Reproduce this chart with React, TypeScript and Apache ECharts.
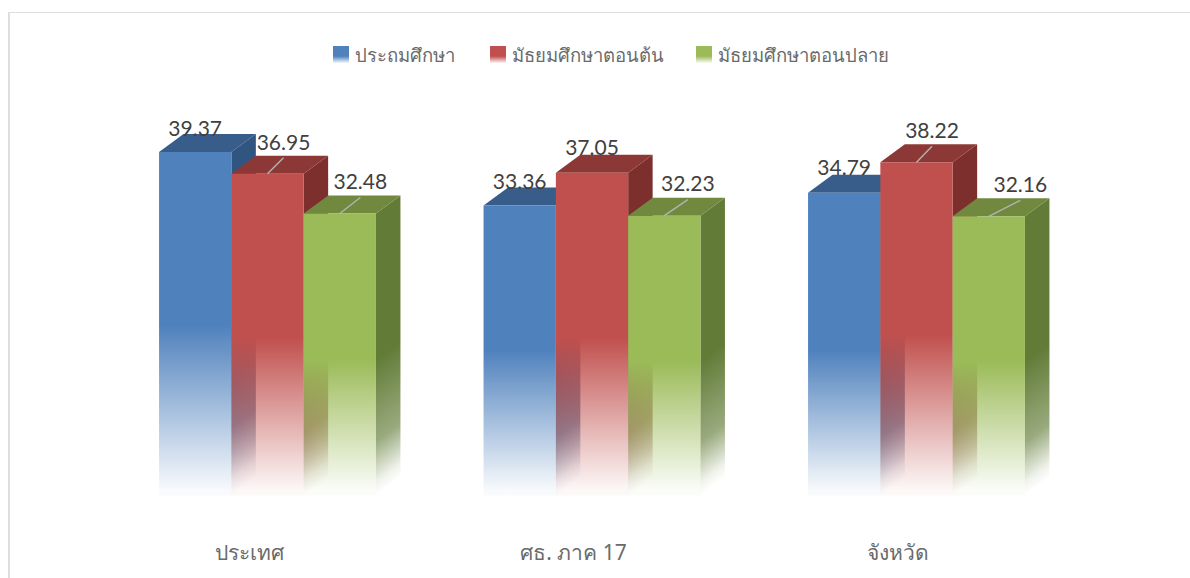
import React, { useEffect, useRef } from "react";
import * as echarts from "echarts";

const categories = ["ประเทศ", "ศธ. ภาค 17", "จังหวัด"];
const seriesNames = ["ประถมศึกษา", "มัธยมศึกษาตอนต้น", "มัธยมศึกษาตอนปลาย"];
const primary = [39.37, 33.36, 34.79];
const lowerSecondary = [36.95, 37.05, 38.22];
const upperSecondary = [32.48, 32.23, 32.16];
const values = [primary, lowerSecondary, upperSecondary];

const FRONT = ["#4f81bd", "#c0504d", "#9bbb59"];
const TOP = ["#385d8a", "#8c3836", "#71893f"];
const SIDE = ["#2f5580", "#7c2f2d", "#627c38"];
const FADE_START = [[325, 350, 350], [338, 338, 335], [360, 362, 362]];
// label offset from the centre of the bar's front face; a non-zero x gets a leader line
const LABEL_OFFSET = [
  [[0, -25], [0, -25], [0, -26]],
  [[16, -32], [0, -26], [15.5, -33]],
  [[20.5, -33], [23.5, -33], [31.5, -33]],
];

const BASE_VALUE = 0.8;
const BAR_W = 72.3;
const DX = 24.5;
const DY = -18;
const alpha = (hex: string, a: number) => {
  const n = parseInt(hex.slice(1), 16);
  return `rgba(${n >> 16},${(n >> 8) & 255},${n & 255},${a})`;
};
const frontFill = (hex: string, y1: number, y2: number) => ({
  type: "linear",
  x: 0,
  y: y1,
  x2: 0,
  y2,
  global: true,
  colorStops: [
    { offset: 0, color: alpha(hex, 1) },
    { offset: 1, color: alpha(hex, 0.04) },
  ],
});
// side-face fade whose contour lines run parallel to the slanted bottom edge
const sideFill = (hex: string, xs: number, y1: number, y2: number) => {
  const k = ((y2 - y1) * DX) / (DX * DX + DY * DY);
  return {
    type: "linear",
    x: xs,
    y: y1,
    x2: xs - DY * k,
    y2: y1 + DX * k,
    global: true,
    colorStops: [
      { offset: 0, color: alpha(hex, 1) },
      { offset: 0.6, color: alpha(hex, 0.65) },
      { offset: 0.9, color: alpha(hex, 0.1) },
      { offset: 1, color: alpha(hex, 0) },
    ],
  };
};

function makeRender(si: number) {
  return (params: any, api: any) => {
    const ci = api.value(0);
    const v = api.value(1);
    const [cx, top] = api.coord([ci, v]);
    const [, base] = api.coord([ci, BASE_VALUE]);
    const x = cx - BAR_W * 1.5 + si * BAR_W;
    const fs = FADE_START[si][ci];
    const children: any[] = [
      {
        type: "polygon",
        shape: { points: [[x + BAR_W, top], [x + BAR_W + DX, top + DY], [x + BAR_W + DX, base + DY], [x + BAR_W, base]] },
        style: { fill: sideFill(SIDE[si], x + BAR_W, fs, base) },
      },
      {
        type: "polygon",
        shape: { points: [[x, top], [x + DX, top + DY], [x + BAR_W + DX, top + DY], [x + BAR_W, top]] },
        style: { fill: TOP[si] },
      },
      {
        type: "rect",
        shape: { x, y: top, width: BAR_W, height: base - top },
        style: { fill: frontFill(FRONT[si], fs, base - 5) },
      },
    ];
    const [ox, oy] = LABEL_OFFSET[si][ci];
    if (ox !== 0) {
      children.push({
        type: "line",
        shape: { x1: x + BAR_W / 2, y1: top, x2: x + BAR_W / 2 + ox, y2: top - 16 },
        style: { stroke: "#b3b3b3", lineWidth: 1.4 },
      });
    }
    children.push({
      type: "text",
      x: x + BAR_W / 2 + ox,
      y: top + oy,
      style: {
        text: v.toFixed(2),
        fill: "#404040",
        font: '21px Lato, sans-serif',
        align: "center",
        verticalAlign: "middle",
      },
      z2: 50,
    });
    return { type: "group", children };
  };
}

const LEGEND_LEFT = [328, 485, 691];

export default function App() {
  const ref = useRef<HTMLDivElement>(null);
  useEffect(() => {
    document.body.style.margin = "0";
    const chart = echarts.init(ref.current!, undefined, { renderer: "svg" });
    chart.setOption({
      animation: false,
      backgroundColor: "#fff",
      grid: { left: 105.25, width: 973.5, top: 57.5, bottom: 75.5 },
      xAxis: {
        type: "category",
        data: categories,
        axisLine: { show: false },
        axisTick: { show: false },
        axisLabel: {
          margin: 38.5,
          fontSize: 21,
          color: "#6a6a6a",
          fontFamily: '"Noto Sans", sans-serif',
          padding: [0, 37, 0, 0],
        },
      },
      yAxis: { type: "value", min: 0, max: 50, interval: 10, show: false },
      legend: seriesNames.map((name, i) => ({
        left: LEGEND_LEFT[i],
        top: 40,
        data: [
          {
            name,
            icon: "rect",
            itemStyle: {
              color: {
                type: "linear", x: 0, y: 0, x2: 0, y2: 1,
                colorStops: [
                  { offset: 0, color: FRONT[i] },
                  { offset: 0.6, color: FRONT[i] },
                  { offset: 1, color: alpha(FRONT[i], 0.05) },
                ],
              },
            },
          },
        ],
        itemWidth: 16,
        itemHeight: 17,
        itemGap: 0,
        textStyle: { fontSize: 18.5, color: "#6a6a6a", fontFamily: '"Noto Sans", sans-serif', padding: [0, 0, 4, 1] },
      })),
      graphic: [
        { type: "line", silent: true, shape: { x1: 9, y1: 578, x2: 9, y2: 12 }, style: { stroke: "#dedede", lineWidth: 2 } },
        { type: "line", silent: true, shape: { x1: 8, y1: 12.5, x2: 1190, y2: 12.5 }, style: { stroke: "#dedede", lineWidth: 1 } },
      ],
      series: seriesNames.map((name, si) => ({
        type: "custom",
        name,
        coordinateSystem: "cartesian2d",
        clip: false,
        encode: { x: 0, y: 1 },
        itemStyle: { color: FRONT[si] },
        data: values[si].map((v, ci) => [ci, v]),
        renderItem: makeRender(si),
        z: 2 + si,
      })),
    });
    return () => chart.dispose();
  }, []);
  return <div ref={ref} style={{ width: 1190, height: 578 }} />;
}
